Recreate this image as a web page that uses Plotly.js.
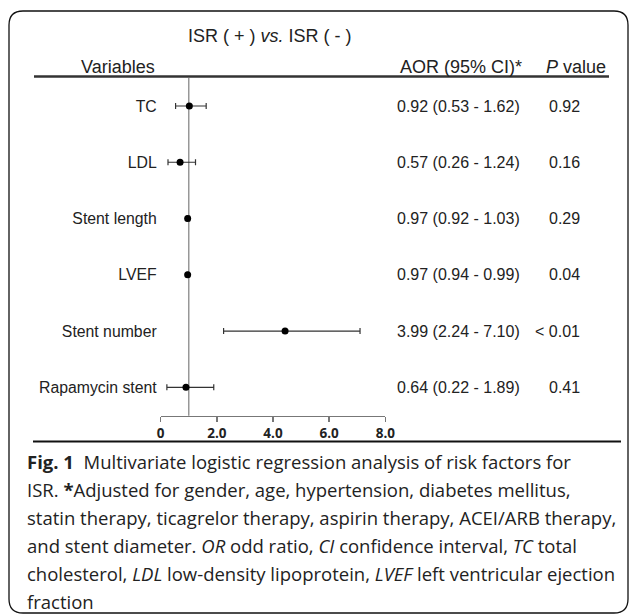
<!DOCTYPE html>
<html>
<head>
<meta charset="utf-8">
<script src="https://cdn.plot.ly/plotly-3.0.1.min.js"></script>
<style>html,body{margin:0;padding:0;background:#fff;}#chart{width:629px;height:615px;}</style>
</head>
<body>
<div id="chart"></div>
<script>
// ---- data ----
const variables = ['TC', 'LDL', 'Stent length', 'LVEF', 'Stent number', 'Rapamycin stent'];
const aorLabels = ['0.92 (0.53 - 1.62)', '0.57 (0.26 - 1.24)', '0.97 (0.92 - 1.03)',
                   '0.97 (0.94 - 0.99)', '3.99 (2.24 - 7.10)', '0.64 (0.22 - 1.89)'];
const pValueLabels = ['0.92', '0.16', '0.29', '0.04', '< 0.01', '0.41'];
// point estimates as they are drawn in the figure
const pointEstimate = [1.02, 0.69, 0.96, 0.96, 4.43, 0.90];
const ciLower = [0.53, 0.26, 0.92, 0.94, 2.24, 0.22];
const ciUpper = [1.62, 1.24, 1.03, 0.99, 7.10, 1.89];
const xTickVals = [0, 2, 4, 6, 8];
const xTickText = ['0', '2.0', '4.0', '6.0', '8.0'];
const refValue = 1;
const captionLines = [
  '<b>Fig. 1</b>\u00a0\u00a0Multivariate logistic regression analysis of risk factors for',
  'ISR. <b>*</b>Adjusted for gender, age, hypertension, diabetes mellitus,',
  'statin therapy, ticagrelor therapy, aspirin therapy, ACEI/ARB therapy,',
  'and stent diameter. <i>OR</i> odd ratio, <i>CI</i> confidence interval, <i>TC</i> total',
  'cholesterol, <i>LDL</i> low-density lipoprotein, <i>LVEF</i> left ventricular ejection',
  'fraction'
];

// ---- layout helpers (pixel -> paper) ----
const W = 629, H = 615;
const X = px => px / W;
const Y = py => 1 - py / H;

const rowTop = 106, rowStep = 56.26;
const yR0 = -rowTop / rowStep;
const yR1 = yR0 + H / rowStep;

const arial = 'Liberation Sans, Arial, sans-serif';
const txt = '#222';

const trace = {
  type: 'scatter', mode: 'markers',
  x: pointEstimate, y: variables,
  marker: {color: '#000', size: 7},
  error_x: {
    type: 'data', symmetric: false,
    array: ciUpper.map((u, i) => u - pointEstimate[i]),
    arrayminus: ciLower.map((l, i) => pointEstimate[i] - l),
    color: '#333', thickness: 1.2, width: 3
  },
  cliponaxis: false, hoverinfo: 'skip', showlegend: false
};

const annotations = [];
function ann(o) {
  annotations.push(Object.assign({showarrow: false, xref: 'paper', yref: 'paper',
                                  xanchor: 'center', yanchor: 'middle'}, o));
}

ann({x: X(269.5), y: Y(36.5), text: 'ISR ( + ) <i>vs.</i> ISR ( - )', font: {family: arial, size: 18, color: txt}});
ann({x: X(118), y: Y(66.5), text: 'Variables', font: {family: arial, size: 18, color: txt}});
ann({x: X(461), y: Y(66.5), text: 'AOR (95% CI)*', font: {family: arial, size: 18, color: txt}});
ann({x: X(575.5), y: Y(66.5), text: '<i>P</i> value', font: {family: arial, size: 18, color: txt}});

variables.forEach((v, i) => {
  ann({x: X(458.5), yref: 'y', y: v, text: aorLabels[i], font: {family: arial, size: 16, color: txt}});
  ann({x: X(582), xanchor: 'right', yref: 'y', y: v, text: pValueLabels[i], font: {family: arial, size: 16, color: txt}});
});

captionLines.forEach((line, i) => {
  ann({x: X(25), xanchor: 'left', y: Y(461.7 + 27.9 * i), text: line,
       font: {family: 'Open Sans, sans-serif', size: 18.5, color: txt}});
});

const r = 14, bx0 = 9, bx1 = 628, by0 = 11, by1 = 613;
const borderPath = [
  `M ${X(bx0 + r)},${Y(by0)}`, `L ${X(bx1 - r)},${Y(by0)}`,
  `Q ${X(bx1)},${Y(by0)} ${X(bx1)},${Y(by0 + r)}`, `L ${X(bx1)},${Y(by1 - r)}`,
  `Q ${X(bx1)},${Y(by1)} ${X(bx1 - r)},${Y(by1)}`, `L ${X(bx0 + r)},${Y(by1)}`,
  `Q ${X(bx0)},${Y(by1)} ${X(bx0)},${Y(by1 - r)}`, `L ${X(bx0)},${Y(by0 + r)}`,
  `Q ${X(bx0)},${Y(by0)} ${X(bx0 + r)},${Y(by0)}`, 'Z'
].join(' ');

const shapes = [
  {type: 'path', xref: 'paper', yref: 'paper', path: borderPath, line: {color: '#111', width: 1.3}},
  {type: 'line', xref: 'paper', yref: 'paper', x0: X(34), x1: X(609), y0: Y(76.5), y1: Y(76.5), line: {color: '#333', width: 2.5}},
  {type: 'line', xref: 'paper', yref: 'paper', x0: X(33), x1: X(621), y0: Y(441.5), y1: Y(441.5), line: {color: '#111', width: 2}},
  {type: 'line', xref: 'x', yref: 'paper', x0: refValue, x1: refValue, y0: Y(78), y1: Y(415.7), layer: 'below', line: {color: '#888', width: 1.3}}
];

const layout = {
  width: W, height: H,
  margin: {l: 0, r: 0, t: 0, b: 0, pad: 0},
  paper_bgcolor: '#fff', plot_bgcolor: 'rgba(0,0,0,0)',
  xaxis: {
    domain: [X(160.7), X(385.3)], range: [0, 8], anchor: 'free', position: Y(415.7),
    tickvals: xTickVals, ticktext: xTickText,
    showline: true, linecolor: '#777', linewidth: 1.3,
    ticks: 'outside', ticklen: 5, tickwidth: 1.3, tickcolor: '#777',
    tickfont: {family: 'Open Sans, sans-serif', size: 13.5, color: '#222', weight: 'bold'},
    showgrid: false, zeroline: false, fixedrange: true
  },
  yaxis: {
    domain: [0, 1], type: 'category', categoryarray: variables, categoryorder: 'array',
    range: [yR1, yR0], anchor: 'x',
    showline: false, ticks: '', showgrid: false, zeroline: false,
    tickfont: {family: arial, size: 15.8, color: txt},
    ticklabelstandoff: 3, fixedrange: true
  },
  shapes: shapes,
  annotations: annotations
};

Plotly.newPlot('chart', [trace], layout, {displayModeBar: false, staticPlot: true});
</script>
</body>
</html>
